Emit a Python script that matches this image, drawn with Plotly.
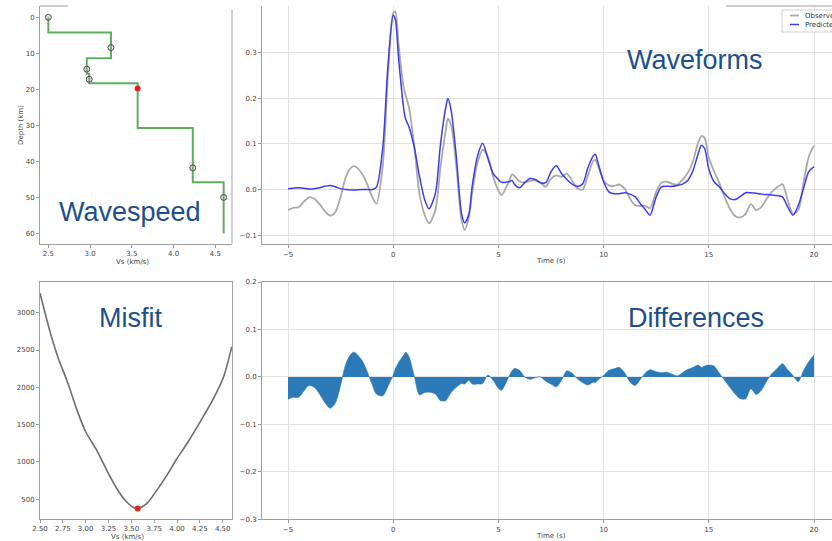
import plotly.graph_objects as go

W, H = 832, 541

# ---- Shear-wave velocity model (layered) ----
layer_vs = [2.5, 3.25, 2.96, 2.99, 3.57, 4.23, 4.6]
layer_top = [0, 4.2, 11.4, 15.7, 18.3, 30.7, 45.8]
layer_bottom = [4.2, 11.4, 15.7, 18.3, 30.7, 45.8, 60]

node_vs = [2.5, 3.25, 2.96, 2.99, 4.23, 4.6]
node_depth = [0, 8.4, 14.4, 17.2, 41.8, 50]
active_vs = [3.57]
active_depth = [19.8]

# ---- Misfit as a function of the perturbed layer velocity ----
misfit_vs = [2.5, 2.61, 2.70, 2.80, 2.905, 3.0, 3.12, 3.23, 3.34, 3.43, 3.51,
             3.57, 3.67, 3.78, 3.89, 4.0, 4.11, 4.255, 4.40, 4.51, 4.6]
misfit_val = [3260, 2745, 2390, 2075, 1695, 1405, 1160, 890, 645, 490, 400,
              378, 444, 623, 824, 1047, 1248, 1540, 1852, 2142, 2545]
best_vs = [3.57]
best_misfit = [378]

# ---- Waveforms ----
time_s = [-5.0, -4.75, -4.5, -4.25, -4.0, -3.75, -3.5, -3.25, -3.0, -2.75, -2.5,
          -2.25, -2.0, -1.85, -1.5, -1.25, -1.0, -0.8, -0.5, -0.25, 0.0, 0.1,
          0.25, 0.5, 0.6, 0.75, 1.0, 1.25, 1.5, 1.7, 2.0, 2.25, 2.5, 2.6, 2.75,
          3.0, 3.25, 3.4, 3.6, 3.75, 4.0, 4.25, 4.5, 4.75, 5.0, 5.15, 5.5, 5.65,
          5.75, 6.0, 6.25, 6.5, 6.75, 7.0, 7.25, 7.5, 7.75, 8.0, 8.25, 8.5, 8.75,
          9.0, 9.25, 9.5, 9.6, 9.75, 10.0, 10.25, 10.5, 10.75, 11.0, 11.25, 11.5,
          11.75, 12.0, 12.2, 12.5, 12.75, 13.0, 13.25, 13.5, 13.75, 14.0, 14.25,
          14.5, 14.65, 14.8, 15.0, 15.25, 15.5, 15.75, 16.0, 16.25, 16.5, 16.75,
          17.0, 17.25, 17.5, 17.75, 18.0, 18.25, 18.5, 18.75, 19.0, 19.25, 19.5,
          19.75, 20.0]
observed = [-0.045, -0.040, -0.039, -0.027, -0.017, -0.020, -0.032, -0.047, -0.057,
            -0.049, -0.016, 0.028, 0.048, 0.051, 0.036, 0.013, -0.016, -0.031, 0.050,
            0.250, 0.385, 0.389, 0.320, 0.222, 0.205, 0.180, 0.095, -0.010, -0.056,
            -0.074, -0.045, 0.050, 0.130, 0.155, 0.141, 0.050, -0.067, -0.088, -0.060,
            -0.009, 0.057, 0.087, 0.072, 0.028, -0.002, -0.012, 0.018, 0.033, 0.030,
            0.018, 0.015, 0.019, 0.020, 0.015, 0.006, 0.024, 0.031, 0.028, 0.035,
            0.020, 0.003, 0.000, 0.030, 0.062, 0.065, 0.050, 0.020, 0.009, 0.008,
            0.011, 0.002, -0.020, -0.034, -0.036, -0.036, -0.041, -0.005, 0.015,
            0.017, 0.013, 0.011, 0.021, 0.036, 0.062, 0.104, 0.117, 0.113, 0.070,
            0.040, 0.014, -0.016, -0.042, -0.058, -0.061, -0.053, -0.032, -0.045,
            -0.038, -0.020, -0.005, 0.005, 0.012, -0.023, -0.053, -0.045, 0.015,
            0.071, 0.096]
predicted = [0.002, 0.003, 0.004, 0.003, 0.001, 0.002, 0.004, 0.007, 0.009, 0.006,
             0.002, 0.000, -0.001, -0.001, 0.000, 0.000, 0.000, 0.005, 0.090, 0.270,
             0.381, 0.372, 0.290, 0.176, 0.153, 0.137, 0.093, 0.028, -0.023, -0.042,
             -0.009, 0.100, 0.180, 0.199, 0.174, 0.072, -0.053, -0.073, -0.053, 0.006,
             0.072, 0.101, 0.068, 0.035, 0.022, 0.016, 0.017, 0.020, 0.012, 0.004,
             0.015, 0.024, 0.022, 0.015, 0.015, 0.039, 0.052, 0.035, 0.022, 0.012,
             0.007, 0.012, 0.047, 0.073, 0.077, 0.056, 0.017, -0.005, -0.009, -0.009,
             -0.007, -0.010, -0.016, -0.031, -0.045, -0.056, -0.016, 0.006, 0.007,
             0.007, 0.009, 0.012, 0.020, 0.042, 0.079, 0.097, 0.090, 0.045, 0.017,
             0.006, -0.009, -0.020, -0.022, -0.015, -0.007, -0.007, -0.008, -0.010,
             -0.011, -0.012, -0.013, -0.016, -0.038, -0.056, -0.035, 0.002, 0.039,
             0.050]
difference = [o - p for o, p in zip(observed, predicted)]

TIME_TICKS = [-5, 0, 5, 10, 15, 20]

# Step profile built from the layer tables
step_vs, step_depth = [], []
for v, top, bot in zip(layer_vs, layer_top, layer_bottom):
    step_vs += [v, v]
    step_depth += [top, bot]


def fx(x):
    return x / W


def fy(y):
    return 1 - y / H


TITLE_BLUE = "#1d4f8a"
TICK_FONT = dict(family="DejaVu Sans", size=7, color="#444444")
SPINE = "#a0a0a0"
GRID = "#e2e2e2"

fig = go.Figure()

# Wavespeed profile
fig.add_trace(go.Scatter(x=step_vs, y=step_depth, mode="lines",
                         line=dict(color="#5fae5f", width=2),
                         xaxis="x", yaxis="y", showlegend=False))
fig.add_trace(go.Scatter(x=node_vs, y=node_depth, mode="markers",
                         marker=dict(size=6, color="rgba(170,170,170,0.35)",
                                     line=dict(color="#505050", width=1)),
                         xaxis="x", yaxis="y", showlegend=False))
fig.add_trace(go.Scatter(x=active_vs, y=active_depth, mode="markers",
                         marker=dict(size=6, color="#e8231b", line=dict(width=0)),
                         xaxis="x", yaxis="y", showlegend=False))

# Waveforms
fig.add_trace(go.Scatter(x=time_s, y=observed, mode="lines", name="Observed",
                         line=dict(color="#a9a9a9", width=1.8, shape="spline", smoothing=0.8),
                         xaxis="x2", yaxis="y2", showlegend=False))
fig.add_trace(go.Scatter(x=time_s, y=predicted, mode="lines", name="Predicted",
                         line=dict(color="#3c3cee", width=1.5, shape="spline", smoothing=0.8),
                         xaxis="x2", yaxis="y2", showlegend=False))

# Misfit curve
fig.add_trace(go.Scatter(x=misfit_vs, y=misfit_val, mode="lines",
                         line=dict(color="#6e6e6e", width=1.6, shape="spline", smoothing=0.8),
                         xaxis="x3", yaxis="y3", showlegend=False))
fig.add_trace(go.Scatter(x=best_vs, y=best_misfit, mode="markers",
                         marker=dict(size=6, color="#e8231b"),
                         xaxis="x3", yaxis="y3", showlegend=False))

# Differences
fig.add_trace(go.Scatter(x=time_s, y=difference, mode="lines", fill="tozeroy",
                         fillcolor="#2c7bb8",
                         line=dict(color="#2c7bb8", width=0.6, shape="spline", smoothing=0.8),
                         xaxis="x4", yaxis="y4", showlegend=False))


def axis(**kw):
    base = dict(showgrid=False, zeroline=False, ticks="outside", ticklen=3,
                tickcolor="#999999", tickwidth=1, tickfont=TICK_FONT,
                showline=True, linecolor=SPINE, linewidth=1, fixedrange=True,
                automargin=False)
    base.update(kw)
    return base


fig.update_layout(
    width=W, height=H,
    margin=dict(l=0, r=0, t=0, b=0, autoexpand=False),
    paper_bgcolor="white", plot_bgcolor="white",
    showlegend=False,
    xaxis=axis(domain=[fx(40), fx(232)], range=[2.40, 4.70], anchor="y",
               tickvals=[2.5, 3.0, 3.5, 4.0, 4.5], tickformat=".1f"),
    yaxis=axis(domain=[fy(243.5), fy(6)], range=[62.8, -3.14], anchor="x",
               tickvals=[0, 10, 20, 30, 40, 50, 60]),
    xaxis2=axis(domain=[fx(262), 1], range=[-6.236, 20.855], anchor="y2",
                tickvals=TIME_TICKS, showgrid=True, gridcolor=GRID, gridwidth=1.2),
    yaxis2=axis(domain=[fy(244.3), fy(6)], range=[-0.1197, 0.4013], anchor="x2",
                tickvals=[-0.1, 0.0, 0.1, 0.2, 0.3], tickformat=".1f",
                showgrid=True, gridcolor=GRID, gridwidth=1.2),
    xaxis3=axis(domain=[fx(40), fx(232)], range=[2.5, 4.602], anchor="y3", mirror=True,
                tickvals=[2.5, 2.75, 3.0, 3.25, 3.5, 3.75, 4.0, 4.25, 4.5], tickformat=".2f"),
    yaxis3=axis(domain=[fy(519), fy(282)], range=[236, 3411], anchor="x3", mirror=True,
                tickvals=[500, 1000, 1500, 2000, 2500, 3000]),
    xaxis4=axis(domain=[fx(262), 1], range=[-6.236, 20.855], anchor="y4", mirror=True,
                tickvals=TIME_TICKS, showgrid=True, gridcolor=GRID, gridwidth=1.2),
    yaxis4=axis(domain=[fy(519.3), fy(282)], range=[-0.3, 0.2], anchor="x4",
                tickvals=[-0.3, -0.2, -0.1, 0.0, 0.1, 0.2], tickformat=".1f",
                showgrid=True, gridcolor=GRID, gridwidth=1.2),
)

shapes = []


def hline(x0, x1, y, color=SPINE, width=1):
    shapes.append(dict(type="line", xref="paper", yref="paper",
                       x0=fx(x0), x1=fx(x1), y0=fy(y), y1=fy(y),
                       line=dict(color=color, width=width)))


def vline(x, y0, y1, color=SPINE, width=1):
    shapes.append(dict(type="line", xref="paper", yref="paper",
                       x0=fx(x), x1=fx(x), y0=fy(y0), y1=fy(y1),
                       line=dict(color=color, width=width)))


# partial frame pieces around the velocity and waveform panels
vline(232, 10, 243.5)
hline(40, 68, 6)
hline(726, 832, 6)

# legend box for the waveform panel
shapes.append(dict(type="rect", xref="paper", yref="paper",
                   x0=fx(782), x1=fx(850), y0=fy(32), y1=fy(10),
                   fillcolor="rgba(255,255,255,0.85)",
                   line=dict(color="#d0d0d0", width=1)))
hline(790, 799, 15.5, color="#a9a9a9", width=1.8)
hline(790, 799, 24.5, color="#3c3cee", width=1.5)
fig.update_layout(shapes=shapes)

annotations = []


def label(text, x, y, size, color, angle=0, xanchor="center", family="Liberation Sans"):
    annotations.append(dict(text=text, x=fx(x), y=fy(y), xref="paper", yref="paper",
                            showarrow=False, xanchor=xanchor, yanchor="middle",
                            textangle=angle,
                            font=dict(family=family, size=size, color=color)))


# panel headings
label("Wavespeed", 130, 212, 27, TITLE_BLUE)
label("Waveforms", 695, 60, 27, TITLE_BLUE)
label("Misfit", 130, 318, 27, TITLE_BLUE)
label("Differences", 695.5, 318, 27, TITLE_BLUE)

# axis titles
AX = "#444444"
label("Depth (km)", 21, 125, 7, AX, angle=-90, family="DejaVu Sans")
label("Vs (km/s)", 132, 262, 7, AX, family="DejaVu Sans")
label("Vs (km/s)", 127, 537, 7, AX, family="DejaVu Sans")
label("Time (s)", 550.5, 261, 7, AX, family="DejaVu Sans")
label("Time (s)", 550.5, 536, 7, AX, family="DejaVu Sans")

# legend entries
label("Observed", 803, 15.5, 7, "#333333", xanchor="left", family="DejaVu Sans")
label("Predicted", 803, 24.5, 7, "#333333", xanchor="left", family="DejaVu Sans")

fig.update_layout(annotations=annotations)

fig.write_html("out.html")
